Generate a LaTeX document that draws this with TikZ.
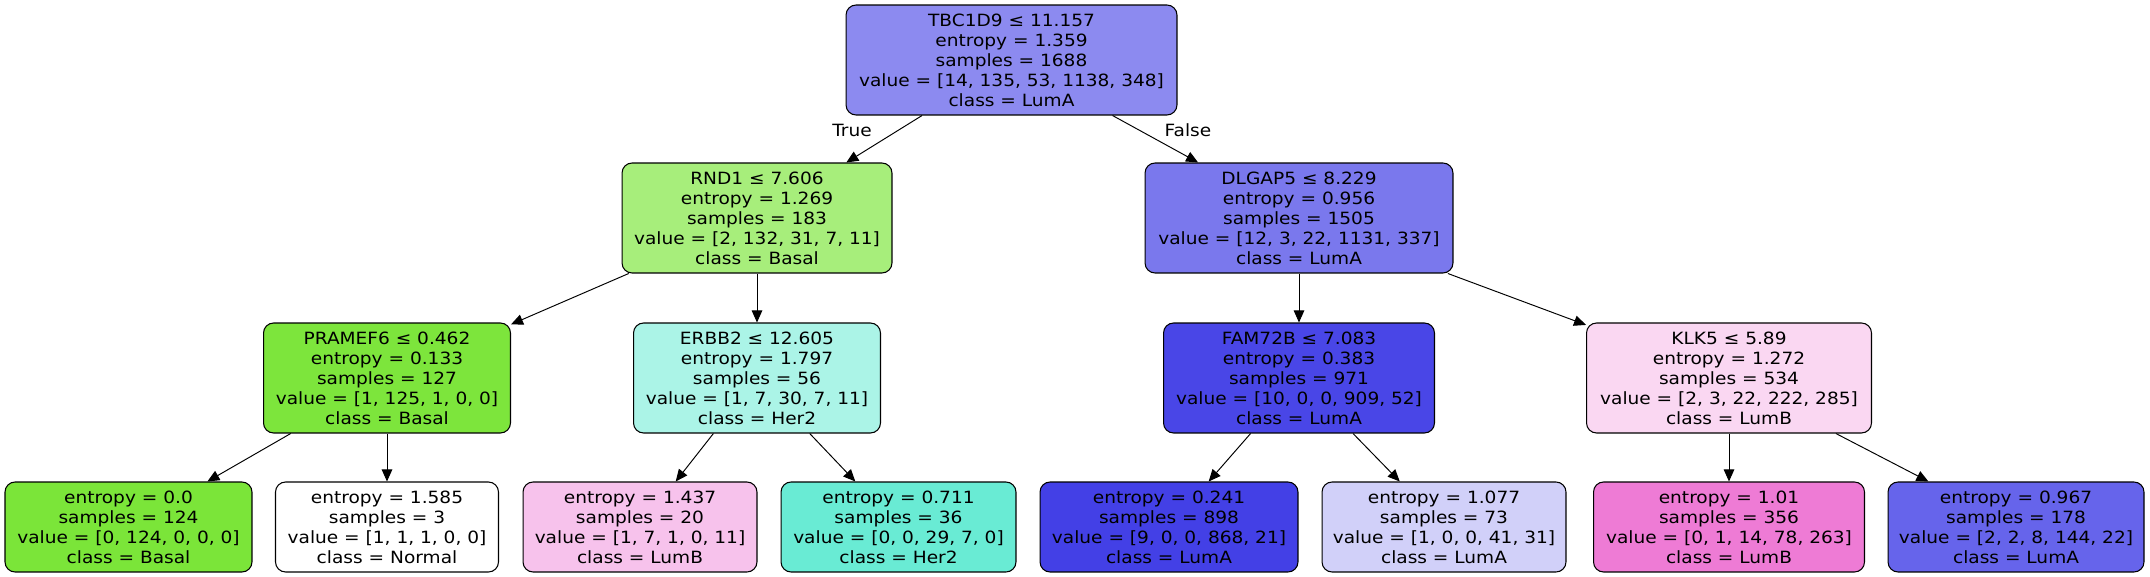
\documentclass[tikz,border=0pt]{standalone}
\usepackage{fontspec}
\setmainfont{DejaVu Sans}[FakeStretch=1.1]
\usetikzlibrary{arrows.meta}

\definecolor{cRoot}{RGB}{140,138,240}
\definecolor{cRnd}{RGB}{167,238,123}
\definecolor{cDlg}{RGB}{122,120,237}
\definecolor{cPra}{RGB}{125,229,60}
\definecolor{cErb}{RGB}{171,244,231}
\definecolor{cFam}{RGB}{73,70,231}
\definecolor{cKlk}{RGB}{250,215,242}
\definecolor{cLa}{RGB}{123,229,57}
\definecolor{cLb}{RGB}{255,255,255}
\definecolor{cLc}{RGB}{247,194,236}
\definecolor{cLd}{RGB}{105,235,212}
\definecolor{cLe}{RGB}{67,64,230}
\definecolor{cLf}{RGB}{209,208,249}
\definecolor{cLg}{RGB}{238,123,213}
\definecolor{cLh}{RGB}{102,100,235}

\begin{document}
\begin{tikzpicture}[x=0.02cm, y=-0.02cm,
  every node/.style={font=\fontsize{9.6}{11.4}\selectfont},
  split/.style={draw, line width=0.6pt, rounded corners=0.2cm, align=center, inner sep=0pt, minimum height=2.2cm},
  leaf/.style={split, minimum height=1.8cm},
  edge/.style={line width=0.55pt, -{Triangle[length=0.24cm, width=0.21cm]}}]

\useasboundingbox (0,0) rectangle (2150,577);

\node[split, fill=cRoot, minimum width=6.62cm] (root) at (1011.5,60) {TBC1D9 ≤ 11.157\\entropy = 1.359\\samples = 1688\\value = [14, 135, 53, 1138, 348]\\class = LumA};

\node[split, fill=cRnd, minimum width=5.4cm] (rnd1) at (757,218) {RND1 ≤ 7.606\\entropy = 1.269\\samples = 183\\value = [2, 132, 31, 7, 11]\\class = Basal};
\node[split, fill=cDlg, minimum width=6.16cm] (dlgap5) at (1299,218) {DLGAP5 ≤ 8.229\\entropy = 0.956\\samples = 1505\\value = [12, 3, 22, 1131, 337]\\class = LumA};

\node[split, fill=cPra, minimum width=4.94cm] (pramef6) at (387,378) {PRAMEF6 ≤ 0.462\\entropy = 0.133\\samples = 127\\value = [1, 125, 1, 0, 0]\\class = Basal};
\node[split, fill=cErb, minimum width=4.94cm] (erbb2) at (757,378) {ERBB2 ≤ 12.605\\entropy = 1.797\\samples = 56\\value = [1, 7, 30, 7, 11]\\class = Her2};
\node[split, fill=cFam, minimum width=5.42cm] (fam72b) at (1299,378) {FAM72B ≤ 7.083\\entropy = 0.383\\samples = 971\\value = [10, 0, 0, 909, 52]\\class = LumA};
\node[split, fill=cKlk, minimum width=5.7cm] (klk5) at (1729,378) {KLK5 ≤ 5.89\\entropy = 1.272\\samples = 534\\value = [2, 3, 22, 222, 285]\\class = LumB};

\node[leaf, fill=cLa, minimum width=4.94cm] (leafa) at (128.5,527) {entropy = 0.0\\samples = 124\\value = [0, 124, 0, 0, 0]\\class = Basal};
\node[leaf, fill=cLb, minimum width=4.46cm] (leafb) at (387,527) {entropy = 1.585\\samples = 3\\value = [1, 1, 1, 0, 0]\\class = Normal};
\node[leaf, fill=cLc, minimum width=4.68cm] (leafc) at (640,527) {entropy = 1.437\\samples = 20\\value = [1, 7, 1, 0, 11]\\class = LumB};
\node[leaf, fill=cLd, minimum width=4.7cm] (leafd) at (898.5,527) {entropy = 0.711\\samples = 36\\value = [0, 0, 29, 7, 0]\\class = Her2};
\node[leaf, fill=cLe, minimum width=5.16cm] (leafe) at (1169,527) {entropy = 0.241\\samples = 898\\value = [9, 0, 0, 868, 21]\\class = LumA};
\node[leaf, fill=cLf, minimum width=4.88cm] (leaff) at (1444,527) {entropy = 1.077\\samples = 73\\value = [1, 0, 0, 41, 31]\\class = LumA};
\node[leaf, fill=cLg, minimum width=5.42cm] (leafg) at (1729,527) {entropy = 1.01\\samples = 356\\value = [0, 1, 14, 78, 263]\\class = LumB};
\node[leaf, fill=cLh, minimum width=5.12cm] (leafh) at (2016,527) {entropy = 0.967\\samples = 178\\value = [2, 2, 8, 144, 22]\\class = LumA};

\draw[edge] (root) -- (rnd1);
\draw[edge] (root) -- (dlgap5);
\draw[edge] (rnd1) -- (pramef6);
\draw[edge] (rnd1) -- (erbb2);
\draw[edge] (dlgap5) -- (fam72b);
\draw[edge] (dlgap5) -- (klk5);
\draw[edge] (pramef6) -- (leafa);
\draw[edge] (pramef6) -- (leafb);
\draw[edge] (erbb2) -- (leafc);
\draw[edge] (erbb2) -- (leafd);
\draw[edge] (fam72b) -- (leafe);
\draw[edge] (fam72b) -- (leaff);
\draw[edge] (klk5) -- (leafg);
\draw[edge] (klk5) -- (leafh);

\node (lbltrue) at (852,130) {True};
\node (lblfalse) at (1188,130) {False};

\end{tikzpicture}
\end{document}
